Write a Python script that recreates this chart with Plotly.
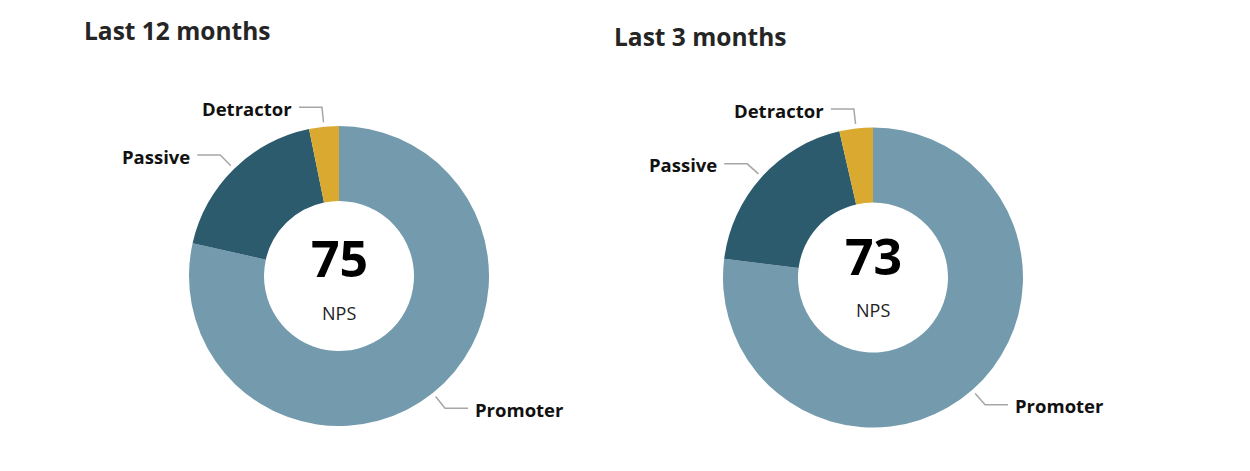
import math
import plotly.graph_objects as go

# ---- data ----
periods = ["Last 12 months", "Last 3 months"]
segments = ["Promoter", "Passive", "Detractor"]
share_12m = [78.5, 18.3, 3.2]
share_3m = [77.0, 19.4, 3.6]
nps_label = "NPS"

colors = ["#739BAD", "#2C5B6E", "#DAA92F"]
W, H = 1250, 471
FONT = "Open Sans"

# layout geometry in px (center x, center y, radius, title x, title y)
charts = [
    dict(values=share_12m, cx=339, cy=276, R=150, tx=85, ty=31, off=(-18, 37)),
    dict(values=share_3m, cx=873, cy=277.5, R=150, tx=615, ty=36.5, off=(-22, 32)),
]


def px(x):
    return x / W


def py(y):
    return 1 - y / H


fig = go.Figure()
annotations = []
shapes = []

for period, ch in zip(periods, charts):
    vals = ch["values"]
    cx, cy, R = ch["cx"], ch["cy"], ch["R"]
    fig.add_trace(go.Pie(
        labels=segments,
        values=vals,
        hole=0.5,
        sort=False,
        direction="clockwise",
        rotation=0,
        textinfo="none",
        marker=dict(colors=colors, line=dict(width=0)),
        domain=dict(x=[px(cx - R), px(cx + R)], y=[py(cy + R), py(cy - R)]),
        showlegend=False,
        hovertemplate="%{label}: %{percent}<extra></extra>",
    ))
    # title
    annotations.append(dict(
        x=px(ch["tx"] - 3), y=py(ch["ty"]), xref="paper", yref="paper",
        text=f"<b>{period}</b>", showarrow=False, xanchor="left", yanchor="middle",
        font=dict(family=FONT, size=24.5, color="#252525"),
    ))
    # center text
    nps = round(vals[0] - vals[2])
    annotations.append(dict(
        x=px(cx), y=py(cy + ch["off"][0]), xref="paper", yref="paper",
        text=f"<b>{nps}</b>", showarrow=False, xanchor="center", yanchor="middle",
        font=dict(family=FONT, size=50, color="#000000"),
    ))
    annotations.append(dict(
        x=px(cx), y=py(cy + ch["off"][1]), xref="paper", yref="paper",
        text=nps_label, showarrow=False, xanchor="center", yanchor="middle",
        font=dict(family=FONT, size=18, color="#222222"),
    ))
    # leader lines + labels
    total = sum(vals)
    cum = 0.0
    for seg, v in zip(segments, vals):
        mid = (cum + v / 2) / total * 2 * math.pi
        cum += v
        s, c = math.sin(mid), math.cos(mid)
        r1, r2 = R * 1.03, R * 1.13
        x1, y1 = cx + r1 * s, cy - r1 * c
        x2, y2 = cx + r2 * s, cy - r2 * c
        d = 1 if s > 0 else -1
        x3 = x2 + d * 23
        shapes.append(dict(
            type="path", xref="paper", yref="paper",
            path=f"M {px(x1)},{py(y1)} L {px(x2)},{py(y2)} L {px(x3)},{py(y2)}",
            line=dict(color="#A6A6A6", width=1.5),
        ))
        annotations.append(dict(
            x=px(x3 + d * 5), y=py(y2 + 1), xref="paper", yref="paper",
            text=f"<b>{seg}</b>", showarrow=False,
            xanchor="left" if d > 0 else "right", yanchor="middle",
            font=dict(family=FONT, size=18.5, color="#111111"),
        ))

fig.update_layout(
    width=W, height=H,
    margin=dict(l=0, r=0, t=0, b=0),
    paper_bgcolor="white",
    plot_bgcolor="white",
    annotations=annotations,
    shapes=shapes,
)

fig.write_html(
    "out.html",
    config={"displayModeBar": False},
    post_script="document.body.style.margin='0';",
)
